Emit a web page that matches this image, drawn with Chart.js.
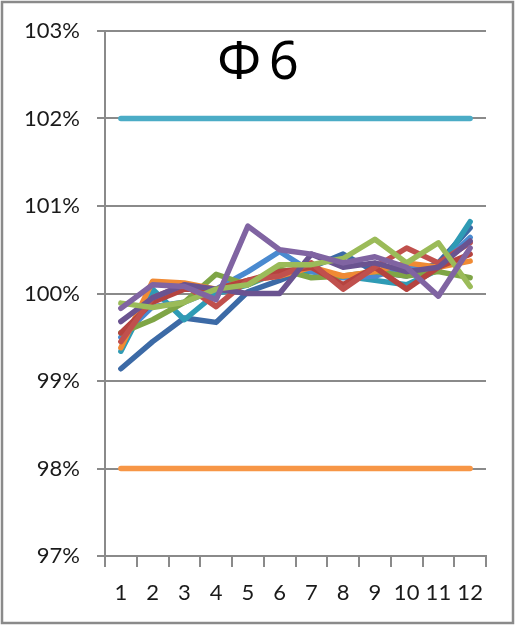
<!DOCTYPE html>
<html>
<head>
<meta charset="utf-8">
<script src="https://cdn.jsdelivr.net/npm/chart.js"></script>
<style>
  html, body { margin: 0; padding: 0; background: #fff; }
  canvas { display: block; }
</style>
</head>
<body>
<canvas id="c" width="516" height="630"></canvas>
<script>
// categories and series (values in %)
var categories = ['1','2','3','4','5','6','7','8','9','10','11','12'];
var upperLimit = [102,102,102,102,102,102,102,102,102,102,102,102];
var lowerLimit = [98,98,98,98,98,98,98,98,98,98,98,98];

var sPurple     = [99.83, 100.10, 100.08, 99.93, 100.77, 100.50, 100.45, 100.35, 100.42, 100.30, 99.97, 100.52];
var sGreen      = [99.89, 99.84, 99.90, 100.05, 100.10, 100.33, 100.33, 100.40, 100.62, 100.35, 100.58, 100.08];
var sDarkPurple = [99.68, 99.95, 100.10, 100.05, 100.00, 100.00, 100.45, 100.30, 100.35, 100.25, 100.30, 100.60];
var sRed        = [99.45, 99.95, 100.10, 99.85, 100.15, 100.20, 100.35, 100.05, 100.30, 100.52, 100.35, 100.58];
var sDarkRed    = [99.55, 99.90, 100.05, 100.05, 100.15, 100.25, 100.30, 100.10, 100.30, 100.05, 100.30, 100.45];
var sOrange     = [99.38, 100.14, 100.12, 100.05, 100.15, 100.20, 100.30, 100.20, 100.25, 100.35, 100.30, 100.37];
var sDarkGreen  = [99.55, 99.70, 99.90, 100.22, 100.10, 100.28, 100.18, 100.20, 100.25, 100.20, 100.25, 100.18];
var sBlue       = [99.50, 99.85, 99.90, 100.05, 100.25, 100.48, 100.25, 100.18, 100.20, 100.30, 100.30, 100.64];
var sTeal       = [99.34, 100.05, 99.70, 100.00, 100.10, 100.25, 100.25, 100.20, 100.15, 100.10, 100.27, 100.82];
var sDarkBlue   = [99.14, 99.45, 99.72, 99.67, 100.02, 100.15, 100.30, 100.45, 100.25, 100.20, 100.35, 100.75];

var titleText = 'Φ6';

function line(data, color) {
    return {
        data: data,
        borderColor: color,
        backgroundColor: color,
        borderWidth: 5.5,
        pointRadius: 0,
        tension: 0,
        fill: false,
        borderCapStyle: 'round',
        borderJoinStyle: 'round'
    };
}

var frame = {
    id: 'frame',
    afterDraw: function (chart) {
        var ctx = chart.ctx;
        ctx.save();
        ctx.strokeStyle = '#8a8a8a';
        ctx.lineWidth = 2.5;
        ctx.strokeRect(2, 2, 511, 621);
        ctx.fillStyle = '#000';
        ctx.font = '52px "Noto Sans"';
        ctx.textAlign = 'center';
        ctx.textBaseline = 'middle';
        ctx.letterSpacing = '8px';
        ctx.fillText(titleText, 262, 64);
        ctx.restore();
    }
};

var ctx = document.getElementById('c').getContext('2d');
var myChart = new Chart(ctx, {
    type: 'line',
    data: {
        labels: categories,
        datasets: [
            line(sPurple, '#8064a2'),
            line(sGreen, '#9bbb59'),
            line(sDarkPurple, '#6a5390'),
            line(sRed, '#c0504d'),
            line(sDarkRed, '#b5433f'),
            line(sOrange, '#f08a34'),
            line(sDarkGreen, '#7fa546'),
            line(sBlue, '#4a8ad0'),
            line(sTeal, '#2f9bb5'),
            line(sDarkBlue, '#3c6aa6'),
            line(upperLimit, '#4bacc6'),
            line(lowerLimit, '#f79646')
        ]
    },
    options: {
        responsive: false,
        animation: false,
        layout: { padding: { left: 0, right: 30, top: 31, bottom: 0 } },
        plugins: {
            legend: { display: false },
            tooltip: { enabled: false }
        },
        scales: {
            x: {
                offset: true,
                grid: {
                    offset: true,
                    drawOnChartArea: false,
                    drawTicks: true,
                    tickLength: 11,
                    color: '#8a8a8a',
                    lineWidth: 2
                },
                border: { color: '#8a8a8a', width: 2 },
                ticks: {
                    color: '#1a1a1a',
                    font: { family: 'Lato', size: 22 },
                    padding: 13,
                    maxRotation: 0,
                    autoSkip: false
                },
                afterFit: function (scale) { scale.height = 630 - 556; }
            },
            y: {
                min: 97,
                max: 103,
                grid: {
                    color: '#8a8a8a',
                    lineWidth: 2,
                    tickLength: 8
                },
                border: { color: '#8a8a8a', width: 2 },
                ticks: {
                    stepSize: 1,
                    color: '#1a1a1a',
                    font: { family: 'Lato', size: 22 },
                    padding: 17,
                    callback: function (v) { return v + '%'; }
                },
                afterFit: function (scale) { scale.width = 105; }
            }
        }
    },
    plugins: [frame]
});
</script>
</body>
</html>
